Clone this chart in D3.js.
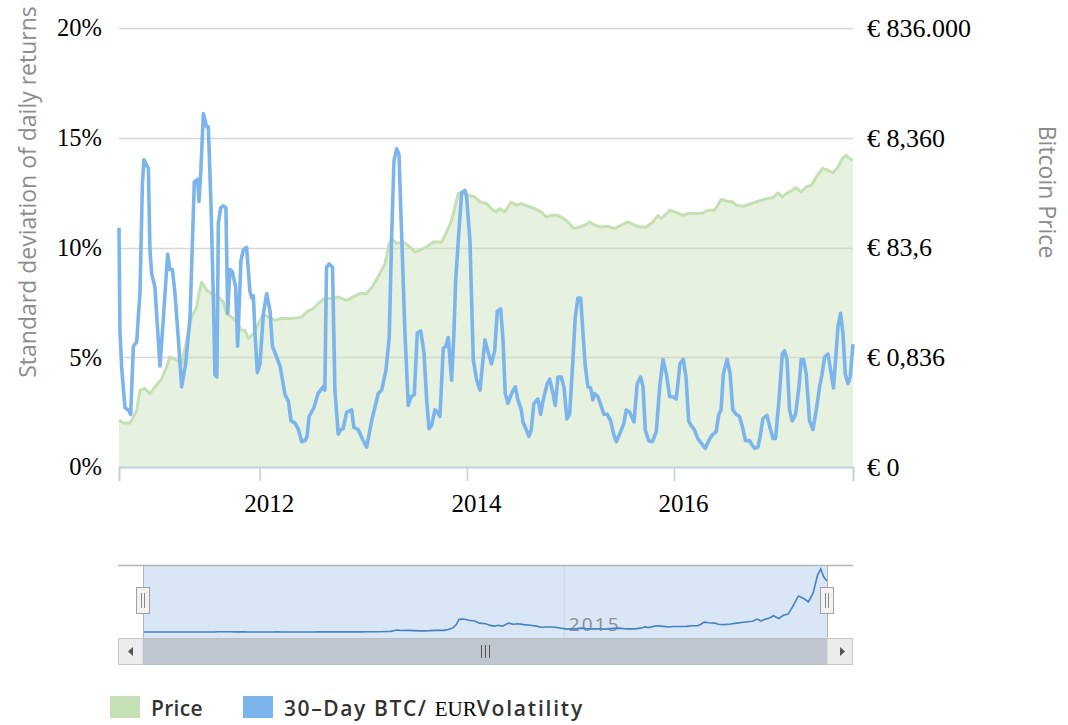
<!DOCTYPE html>
<html><head><meta charset="utf-8">
<script src="https://cdn.jsdelivr.net/npm/d3@7"></script>
<style>body{margin:0;background:#fff}svg{display:block}</style>
</head><body>
<svg id="c" width="1068" height="725"></svg>
<script>
// ---------- DATA (dates as decimal years) ----------
const volatility = [
[2010.641,10.9],[2010.650,6.2],[2010.667,4.5],[2010.699,2.7],[2010.731,2.6],[2010.754,2.4],[2010.780,5.5],[2010.812,5.7],
[2010.844,8.0],[2010.867,12.9],[2010.882,14.0],[2010.925,13.6],[2010.940,9.9],[2010.957,8.8],[2010.988,8.2],[2011.015,6.2],
[2011.037,4.6],[2011.070,6.8],[2011.111,9.7],[2011.133,9.0],[2011.157,9.0],[2011.182,7.9],[2011.215,5.8],[2011.246,3.65],
[2011.285,4.7],[2011.327,6.8],[2011.369,13.0],[2011.401,13.1],[2011.414,12.1],[2011.433,13.6],[2011.456,16.1],[2011.488,15.5],
[2011.504,15.5],[2011.529,12.1],[2011.553,7.6],[2011.568,4.2],[2011.587,4.1],[2011.601,11.1],[2011.623,11.8],[2011.649,11.9],
[2011.674,11.8],[2011.691,7.0],[2011.713,9.0],[2011.736,8.9],[2011.768,8.2],[2011.787,5.5],[2011.819,9.4],[2011.843,9.9],
[2011.874,10.0],[2011.906,8.0],[2011.923,7.7],[2011.939,7.8],[2011.955,6.1],[2011.978,4.3],[2012.003,4.7],[2012.036,7.0],
[2012.068,7.9],[2012.100,7.1],[2012.123,5.5],[2012.164,5.0],[2012.196,4.6],[2012.219,4.0],[2012.244,3.3],[2012.277,3.0],
[2012.302,2.1],[2012.341,2.0],[2012.374,1.7],[2012.406,1.15],[2012.438,1.2],[2012.457,1.4],[2012.476,2.3],[2012.522,2.7],
[2012.563,3.35],[2012.612,3.65],[2012.628,3.5],[2012.644,9.1],[2012.670,9.25],[2012.702,9.1],[2012.725,3.5],[2012.757,1.5],
[2012.780,1.7],[2012.805,1.75],[2012.838,2.5],[2012.886,2.6],[2012.908,1.8],[2012.950,1.7],[2012.998,1.2],[2013.031,0.9],
[2013.079,2.1],[2013.143,3.35],[2013.176,3.5],[2013.217,4.4],[2013.249,5.9],[2013.273,10.6],[2013.295,13.95],[2013.321,14.5],
[2013.343,14.25],[2013.369,10.6],[2013.401,6.1],[2013.433,2.8],[2013.459,3.2],[2013.491,3.3],[2013.520,6.1],[2013.553,6.2],
[2013.585,5.2],[2013.611,3.05],[2013.633,1.75],[2013.659,1.9],[2013.691,2.6],[2013.717,2.5],[2013.739,2.3],[2013.771,5.4],
[2013.797,5.5],[2013.819,5.9],[2013.852,3.95],[2013.874,6.1],[2013.891,8.5],[2013.916,10.3],[2013.949,12.5],[2013.981,12.6],
[2013.997,12.3],[2014.029,10.3],[2014.061,4.9],[2014.094,3.95],[2014.126,3.5],[2014.174,5.8],[2014.206,5.2],[2014.237,4.7],
[2014.268,5.3],[2014.293,7.1],[2014.326,7.2],[2014.348,5.8],[2014.370,3.35],[2014.396,2.9],[2014.435,3.4],[2014.467,3.65],
[2014.493,3.05],[2014.525,2.6],[2014.541,2.05],[2014.573,1.7],[2014.599,1.4],[2014.621,1.7],[2014.647,2.9],[2014.686,3.1],
[2014.712,2.4],[2014.734,3.0],[2014.776,3.8],[2014.799,4.0],[2014.831,3.35],[2014.853,2.8],[2014.879,4.1],[2014.911,4.1],
[2014.937,3.65],[2014.966,2.2],[2014.992,2.4],[2015.024,4.9],[2015.046,6.8],[2015.072,7.7],[2015.099,7.7],[2015.121,6.1],
[2015.143,4.6],[2015.169,3.65],[2015.195,3.6],[2015.217,3.05],[2015.234,3.35],[2015.266,3.2],[2015.298,2.75],[2015.324,2.4],
[2015.356,2.4],[2015.388,2.1],[2015.420,1.45],[2015.443,1.15],[2015.475,1.5],[2015.517,2.0],[2015.539,2.6],[2015.572,2.5],
[2015.614,2.05],[2015.645,3.8],[2015.678,4.1],[2015.701,3.65],[2015.723,1.7],[2015.756,1.2],[2015.790,1.15],[2015.829,1.6],
[2015.862,3.65],[2015.894,4.9],[2015.926,4.25],[2015.959,3.2],[2015.990,3.2],[2016.022,3.1],[2016.058,4.7],[2016.090,4.9],
[2016.116,4.1],[2016.142,2.1],[2016.164,1.9],[2016.196,1.7],[2016.229,1.3],[2016.261,1.1],[2016.302,0.85],[2016.335,1.2],
[2016.367,1.45],[2016.406,1.6],[2016.432,2.4],[2016.454,2.6],[2016.476,4.25],[2016.512,4.9],[2016.541,4.25],[2016.567,2.6],
[2016.599,2.4],[2016.631,2.3],[2016.664,1.75],[2016.689,1.2],[2016.728,1.2],[2016.754,1.0],[2016.776,0.85],[2016.809,0.9],
[2016.831,1.4],[2016.857,2.2],[2016.896,2.35],[2016.928,1.75],[2016.954,1.3],[2016.979,1.3],[2017.012,3.05],[2017.044,5.15],
[2017.066,5.3],[2017.089,4.9],[2017.114,2.6],[2017.140,2.1],[2017.172,2.4],[2017.205,3.65],[2017.227,4.9],[2017.249,4.9],
[2017.275,4.25],[2017.307,2.1],[2017.340,1.7],[2017.372,2.6],[2017.404,3.65],[2017.427,4.2],[2017.452,5.0],[2017.485,5.15],
[2017.517,4.25],[2017.539,3.6],[2017.559,4.9],[2017.582,6.4],[2017.607,7.0],[2017.630,6.1],[2017.652,4.25],[2017.678,3.8],
[2017.700,4.1],[2017.727,5.6]
];
const price = [
[2010.641,0.06],[2010.683,0.053],[2010.747,0.053],[2010.780,0.068],[2010.812,0.09],[2010.844,0.21],[2010.892,0.225],
[2010.940,0.18],[2010.988,0.24],[2011.053,0.34],[2011.101,0.56],[2011.133,0.85],[2011.198,0.74],[2011.246,0.64],
[2011.295,1.7],[2011.343,4.5],[2011.391,6.9],[2011.414,12.1],[2011.440,19.7],[2011.488,13.9],[2011.536,12.1],
[2011.601,10.5],[2011.649,8.5],[2011.681,5.2],[2011.729,4.5],[2011.778,3.7],[2011.826,2.6],[2011.858,2.6],
[2011.891,1.83],[2011.939,2.26],[2011.987,3.4],[2012.036,5.2],[2012.084,4.5],[2012.148,3.95],[2012.213,4.24],
[2012.309,4.24],[2012.406,4.5],[2012.454,5.6],[2012.515,6.4],[2012.580,8.5],[2012.628,9.8],[2012.693,9.8],
[2012.757,10.5],[2012.838,9.1],[2012.901,10.5],[2012.966,12.1],[2013.031,12.1],[2013.095,17.1],[2013.159,28],
[2013.208,42.6],[2013.249,98.7],[2013.273,122],[2013.321,98.7],[2013.385,105],[2013.449,85.5],[2013.498,69.3],
[2013.546,74.5],[2013.611,85.5],[2013.674,105],[2013.756,105],[2013.804,160],[2013.852,262],[2013.884,458],
[2013.916,804],[2013.964,824],[2014.013,749],[2014.077,697],[2014.126,565],[2014.190,529],[2014.239,420],
[2014.283,372],[2014.316,428],[2014.364,372],[2014.428,565],[2014.476,492],[2014.525,529],[2014.589,472],
[2014.654,428],[2014.718,372],[2014.766,301],[2014.815,323],[2014.863,323],[2014.911,301],[2014.976,244],
[2015.034,185],[2015.089,198],[2015.137,213],[2015.186,244],[2015.234,213],[2015.298,198],[2015.362,204],
[2015.427,185],[2015.491,213],[2015.556,244],[2015.620,213],[2015.669,198],[2015.732,198],[2015.797,244],
[2015.845,323],[2015.877,282],[2015.959,399],[2016.007,372],[2016.087,323],[2016.132,347],[2016.213,347],
[2016.277,356],[2016.326,399],[2016.389,399],[2016.422,492],[2016.454,625],[2016.503,590],[2016.567,565],
[2016.599,492],[2016.664,472],[2016.728,513],[2016.792,565],[2016.857,625],[2016.954,680],[2017.002,824],
[2017.044,697],[2017.082,804],[2017.131,897],[2017.172,1034],[2017.227,860],[2017.275,1061],[2017.324,1140],
[2017.372,1614],[2017.430,2296],[2017.485,2138],[2017.533,1910],[2017.582,2455],[2017.630,3641],[2017.662,4010],
[2017.694,3493],[2017.727,3253]
];
const volTicks = [0, 5, 10, 15, 20];
const priceTicks = [0.00836, 0.836, 83.6, 8360, 836000];
const priceTickLabels = ["€ 0", "€ 0,836", "€ 83,6", "€ 8,360", "€ 836.000"];
const navTickYears = [2015];
const legendItems = ["Price", "30–Day BTC/ "];

// ---------- helpers ----------
function toDate(y) {
  const yr = Math.floor(y);
  const a = Date.UTC(yr, 0, 1), b = Date.UTC(yr + 1, 0, 1);
  return new Date(a + (y - yr) * (b - a));
}
const svg = d3.select("#c");
const SERIF = "'Liberation Serif','Times New Roman',serif";
const SANS = "'Open Sans','DejaVu Sans',sans-serif";

const allDates = volatility.map(d => d[0]).concat(price.map(d => d[0]));
const dom = d3.extent(allDates).map(toDate);
const x = d3.scaleUtc().domain(dom).range([119, 853]);
const yVol = d3.scaleLinear().domain([0, 20]).range([467, 28]);
const yPrice = d3.scaleLog().domain([priceTicks[0], priceTicks[priceTicks.length - 1]]).range([467, 28]);

// ---------- gridlines ----------
svg.append("g").selectAll("line").data(volTicks.filter(v => v > 0)).join("line")
  .attr("x1", 119).attr("x2", 853)
  .attr("y1", d => Math.round(yVol(d)) + 0.5).attr("y2", d => Math.round(yVol(d)) + 0.5)
  .attr("stroke", "#d8d8d8").attr("stroke-width", 1.5);

// ---------- price area ----------
const area = d3.area().x(d => x(toDate(d[0]))).y0(yVol(0)).y1(d => yPrice(d[1]));
svg.append("path").datum(price).attr("d", area).attr("fill", "#c9e0b8").attr("fill-opacity", 0.45);
const pline = d3.line().x(d => x(toDate(d[0]))).y(d => yPrice(d[1]));
svg.append("path").datum(price).attr("d", pline).attr("fill", "none")
  .attr("stroke", "#c5e0b4").attr("stroke-width", 3).attr("stroke-linejoin", "round");

// ---------- volatility line ----------
const vline = d3.line().x(d => x(toDate(d[0]))).y(d => yVol(d[1]));
svg.append("path").datum(volatility).attr("d", vline).attr("fill", "none")
  .attr("stroke", "#7cb5ec").attr("stroke-width", 3.6).attr("stroke-linejoin", "round");

// ---------- x axis ----------
const xAxis = svg.append("g").attr("transform", "translate(0,467)")
  .call(d3.axisBottom(x).ticks(d3.utcYear.every(2)).tickFormat(d3.utcFormat("%Y")).tickSize(14).tickPadding(13));
xAxis.select(".domain").attr("stroke", "#c0d0e0").attr("stroke-width", 2);
xAxis.selectAll(".tick line").attr("stroke", "#c0d0e0").attr("stroke-width", 1.5);
xAxis.selectAll(".tick text").attr("x", 9).attr("fill", "#000")
  .style("font-family", SERIF).style("font-size", "25px");

// ---------- left axis ----------
const lAxis = svg.append("g").attr("transform", "translate(102,0)")
  .call(d3.axisLeft(yVol).tickValues(volTicks).tickFormat(d => d + "%").tickSize(0).tickPadding(0));
lAxis.select(".domain").remove();
lAxis.selectAll(".tick text").attr("fill", "#000").style("font-family", SERIF).style("font-size", "24.5px");

// ---------- right axis ----------
const rAxis = svg.append("g").attr("transform", "translate(867,0)")
  .call(d3.axisRight(yPrice).tickValues(priceTicks).tickFormat((d, i) => priceTickLabels[i]).tickSize(0).tickPadding(0));
rAxis.select(".domain").remove();
rAxis.selectAll(".tick text").attr("fill", "#000").style("font-family", SERIF).style("font-size", "26px");

// ---------- axis titles ----------
svg.append("text").attr("transform", "translate(27,192) rotate(-90)")
  .attr("text-anchor", "middle").attr("dominant-baseline", "central")
  .attr("fill", "#8c8c8c").style("font-family", SANS).style("font-size", "23px")
  .text("Standard deviation of daily returns");
svg.append("text").attr("transform", "translate(1048,192) rotate(90)")
  .attr("text-anchor", "middle").attr("dominant-baseline", "central")
  .attr("fill", "#8c8c8c").style("font-family", SANS).style("font-size", "23px")
  .text("Bitcoin Price");

// ---------- navigator ----------
const xNav = d3.scaleUtc().domain(dom).range([143, 827]);
const yNav = d3.scaleLinear().domain([0, d3.max(price, d => d[1])]).range([632, 569]);
const nav = svg.append("g");
nav.append("rect").attr("x", xNav.range()[0]).attr("y", 565).attr("width", xNav.range()[1] - xNav.range()[0])
  .attr("height", 73).attr("fill", "#d8e6f6");
nav.selectAll(".ng").data(navTickYears).join("line")
  .attr("x1", d => xNav(toDate(d)) + 0.5).attr("x2", d => xNav(toDate(d)) + 0.5)
  .attr("y1", 565).attr("y2", 638).attr("stroke", "#c4d4e6").attr("stroke-width", 1);
nav.selectAll(".nt").data(navTickYears).join("text")
  .attr("x", d => xNav(toDate(d)) + 5).attr("y", 631)
  .attr("fill", "#8c8c8c").style("font-family", SANS).style("font-size", "19px")
  .attr("textLength", 50).text(d => d);
nav.append("path").datum(price)
  .attr("d", d3.line().x(d => xNav(toDate(d[0]))).y(d => yNav(d[1])))
  .attr("fill", "none").attr("stroke", "#4a7fc1").attr("stroke-width", 1.6);
// outline
nav.append("line").attr("x1", 118).attr("x2", 853).attr("y1", 565.5).attr("y2", 565.5)
  .attr("stroke", "#b5b5b5").attr("stroke-width", 1.5);
[143, 827].forEach(px => {
  nav.append("line").attr("x1", px + 0.5).attr("x2", px + 0.5).attr("y1", 565).attr("y2", 638)
    .attr("stroke", "#b5b5b5").attr("stroke-width", 1);
});
// handles
[143, 827].forEach(px => {
  nav.append("rect").attr("x", px - 6.5).attr("y", 587.5).attr("width", 13).attr("height", 26)
    .attr("fill", "#f2f2f2").attr("stroke", "#a0a0a0").attr("stroke-width", 1);
  [-1.5, 1.5].forEach(o => nav.append("line").attr("x1", px + o).attr("x2", px + o)
    .attr("y1", 593).attr("y2", 608).attr("stroke", "#888").attr("stroke-width", 1));
});
// scrollbar
const sb = svg.append("g");
sb.append("rect").attr("x", 143).attr("y", 638.5).attr("width", 684).attr("height", 26)
  .attr("fill", "#bfc6cf").attr("stroke", "#b8bec6");
sb.append("rect").attr("x", 118.5).attr("y", 638.5).attr("width", 24.5).attr("height", 26)
  .attr("fill", "#ececec").attr("stroke", "#c8c8c8");
sb.append("rect").attr("x", 827).attr("y", 638.5).attr("width", 25.5).attr("height", 26)
  .attr("fill", "#ececec").attr("stroke", "#c8c8c8");
sb.append("path").attr("d", "M128,651.5 L133,647 L133,656 Z").attr("fill", "#555");
sb.append("path").attr("d", "M845,651.5 L840,647 L840,656 Z").attr("fill", "#555");
[-4, 0, 4].forEach(o => sb.append("line").attr("x1", 485 + o + 0.5).attr("x2", 485 + o + 0.5)
  .attr("y1", 645).attr("y2", 658).attr("stroke", "#555").attr("stroke-width", 1));

// ---------- legend ----------
const lg = svg.append("g");
lg.append("rect").attr("x", 110).attr("y", 696).attr("width", 30).attr("height", 22).attr("fill", "#c5e0b4");
lg.append("text").attr("x", 151).attr("y", 716).attr("fill", "#333")
  .style("font-family", SANS).style("font-size", "21px").style("font-weight", 600)
  .style("letter-spacing", "0.3px").text(legendItems[0]);
lg.append("rect").attr("x", 243).attr("y", 696).attr("width", 30).attr("height", 22).attr("fill", "#7cb5ec");
const t2 = lg.append("text").attr("x", 284).attr("y", 716).attr("fill", "#333")
  .style("font-family", SANS).style("font-size", "21px").style("font-weight", 600);
t2.append("tspan").style("letter-spacing", "1.6px").text(legendItems[1]);
t2.append("tspan").attr("fill", "#000").style("font-family", SERIF).style("font-weight", 400)
  .style("font-size", "21px").text("EUR");
t2.append("tspan").style("letter-spacing", "1.8px").text("Volatility");
</script>
</body></html>
